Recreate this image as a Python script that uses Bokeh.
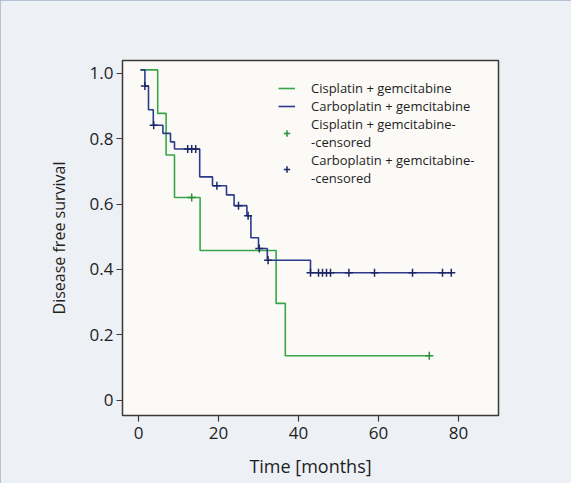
from bokeh.plotting import figure
from bokeh.models import Legend, LegendItem, FixedTicker, CustomJSTickFormatter, Range1d
from bokeh.embed import file_html
from bokeh.resources import INLINE

# ---- data ----
cis_time = [0.4, 4.8, 6.9, 9.0, 15.4, 34.4, 36.7, 72.7]
cis_surv = [1.01, 0.877, 0.750, 0.620, 0.458, 0.296, 0.136, 0.136]
cis_cens_time = [13.3, 72.7]
cis_cens_surv = [0.620, 0.136]

carbo_time = [0.6, 1.6, 2.5, 3.7, 6.1, 8.0, 9.0, 15.3, 18.5, 22.0, 23.9, 27.1, 28.1, 30.0, 32.2, 43.0, 78.2]
carbo_surv = [1.01, 0.961, 0.888, 0.841, 0.816, 0.790, 0.768, 0.683, 0.656, 0.628, 0.595, 0.564, 0.497, 0.464, 0.428, 0.390, 0.390]
carbo_cens_time = [1.6, 3.8, 12.3, 13.3, 14.3, 19.6, 25.0, 27.4, 30.2, 32.4,
                   43.0, 45.0, 46.0, 47.0, 48.0, 52.6, 59.0, 68.5, 76.0, 78.2]
carbo_cens_surv = [0.961, 0.841, 0.768, 0.768, 0.768, 0.656, 0.595, 0.564, 0.464, 0.428,
                   0.390, 0.390, 0.390, 0.390, 0.390, 0.390, 0.390, 0.390, 0.390, 0.390]

x_ticks = [0, 20, 40, 60, 80]
y_ticks = [0, 0.2, 0.4, 0.6, 0.8, 1.0]

series_labels = ["Cisplatin + gemcitabine", "Carboplatin + gemcitabine",
                 "Cisplatin + gemcitabine-\n-censored", "Carboplatin + gemcitabine-\n-censored"]

GREEN = "#38a647"
BLUE = "#2c3a8e"
GREEN_D = "#2b8f3b"
BLUE_D = "#1c2763"
FONT = "Open Sans"
TXT = "#1e1e1e"

p = figure(width=571, height=483, output_backend="svg", toolbar_location=None,
           x_range=Range1d(-4, 90), y_range=Range1d(-0.0467, 1.0388),
           min_border_left=122, min_border_right=73, min_border_top=60, min_border_bottom=68)

p.background_fill_color = "#fbfaf7"
p.border_fill_color = "#edf0f5"
p.outline_line_color = "#3a3a3a"
p.outline_line_width = 1.5
p.styles = {"outline": "1px solid #a3b2c8", "outline-offset": "-1px"}
p.xgrid.visible = False
p.ygrid.visible = False

g_line = p.step(cis_time, cis_surv, mode="after", line_color=GREEN, line_width=1.6)
b_line = p.step(carbo_time, carbo_surv, mode="after", line_color=BLUE, line_width=1.6)
g_c = p.scatter(cis_cens_time, cis_cens_surv, marker="cross", size=8, line_color=GREEN_D, line_width=1.5)
b_c = p.scatter(carbo_cens_time, carbo_cens_surv, marker="cross", size=8, line_color=BLUE_D, line_width=1.5)

for ax in (p.xaxis[0], p.yaxis[0]):
    ax.axis_line_color = None
    ax.major_tick_line_color = "#3a3a3a"
    ax.major_tick_line_width = 1.2
    ax.major_tick_out = 6
    ax.major_tick_in = 0
    ax.minor_tick_line_color = None
    ax.major_label_text_font = FONT
    ax.major_label_text_font_size = "17px"
    ax.major_label_text_color = TXT
    ax.axis_label_text_font = FONT
    ax.axis_label_text_font_style = "normal"
    ax.axis_label_text_color = TXT

p.xaxis.axis_label_text_font_size = "18px"
p.yaxis.axis_label_text_font_size = "16px"
p.xaxis.ticker = FixedTicker(ticks=x_ticks)
p.yaxis.ticker = FixedTicker(ticks=y_ticks)
p.yaxis.formatter = CustomJSTickFormatter(code="return tick === 0 ? '0' : tick.toFixed(1);")
p.xaxis.axis_label = "Time [months]"
p.yaxis.axis_label = "Disease free survival"
p.xaxis.major_label_standoff = 5
p.yaxis.major_label_standoff = 3
p.xaxis.axis_label_standoff = 12
p.yaxis.axis_label_standoff = 17

legend = Legend(items=[
    LegendItem(label=series_labels[0], renderers=[g_line]),
    LegendItem(label=series_labels[1], renderers=[b_line]),
    LegendItem(label=series_labels[2], renderers=[g_c]),
    LegendItem(label=series_labels[3], renderers=[b_c]),
], location=(156, 228))
legend.background_fill_alpha = 0
legend.border_line_color = None
legend.label_text_font = FONT
legend.label_text_font_size = "13px"
legend.label_text_line_height = 1.3
legend.label_text_color = TXT
legend.glyph_width = 17
legend.glyph_height = 16
legend.label_standoff = 16
legend.label_height = 16
legend.spacing = 0
legend.padding = 0
legend.margin = 0
p.add_layout(legend, "center")

open("out.html", "w").write(file_html(p, INLINE))
